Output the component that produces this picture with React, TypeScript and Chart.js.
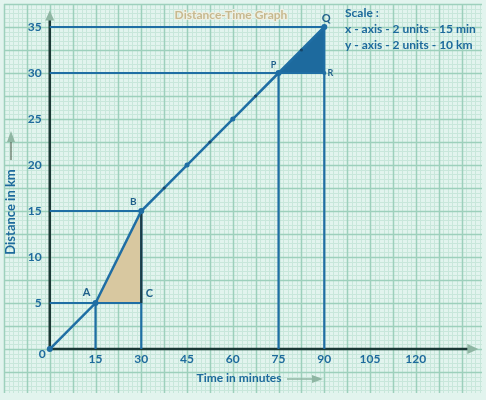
import React, { useEffect, useRef } from 'react';
import { Chart, registerables } from 'chart.js';

Chart.register(...registerables);

// ---- data ----
const timeMin = [0, 15, 30, 45, 60, 75, 90];
const distanceKm = [0, 5, 15, 20, 25, 30, 35];
const pointRadii = [3, 3, 3, 2.5, 2.5, 3, 3];
const tickTime = [37.5, 52.5, 67.5, 82.5];
const tickDist = [17.5, 22.5, 27.5, 32.5];

const xTickLabels = [15, 30, 45, 60, 75, 90, 105, 120];
const yTickLabels = [5, 10, 15, 20, 25, 30, 35];

const pointNames = ['A', 'B', 'C', 'P', 'Q', 'R'];
const pointX = [15, 30, 30, 75, 90, 90];
const pointY = [5, 15, 5, 30, 35, 30];

// guide segments: from (x1,y1) to (x2,y2)
const guideX1 = [0, 0, 0, 0, 15, 30, 75, 90];
const guideY1 = [35, 30, 15, 5, 0, 0, 0, 0];
const guideX2 = [90, 90, 30, 30, 15, 30, 75, 90];
const guideY2 = [35, 30, 15, 5, 5, 15, 30, 35];

// shaded triangles: hypotenuse from (x1,y1) to (x2,y2), base at y1
const triX1 = [15, 75];
const triY1 = [5, 30];
const triX2 = [30, 90];
const triY2 = [15, 35];

const chartTitle = 'Distance-Time Graph';
const scaleLines = ['Scale :', 'x - axis - 2 units - 15 min', 'y - axis - 2 units - 10 km'];
const xTitle = 'Time in minutes';
const yTitle = 'Distance in km';

// ---- styles ----
const BLUE = '#1f6ea4';
const TEXT_BLUE = '#1d6a9c';
const AXIS = '#1b3835';
const ARROW = '#8fb6a3';
const FONT = 'Lato, "Open Sans", sans-serif';
const labelDx = [-9, -8, 8, -5, 2, 6];
const labelDy = [-11, -9, -10, -8, -9, 0];
const labelSize = [11, 10, 11, 9, 11, 9];

const paperPlugin = {
  id: 'paper',
  beforeDraw(chart: any) {
    const { ctx, chartArea: a, scales } = chart;
    const x = scales.x;
    const y = scales.y;
    ctx.save();
    ctx.fillStyle = '#e2f4ee';
    ctx.fillRect(0, 0, chart.width, chart.height);
    for (const major of [false, true]) {
      ctx.strokeStyle = major ? '#9dd0bc' : '#c8e7db';
      ctx.lineWidth = major ? 1.5 : 1;
      ctx.beginPath();
      for (let i = 0; ; i++) {
        const v = -15 + i * 1.5;
        if (v > x.max) break;
        if ((i % 5 === 0) !== major) continue;
        const px = Math.round(x.getPixelForValue(v)) + 0.5;
        ctx.moveTo(px, a.top);
        ctx.lineTo(px, a.bottom);
      }
      for (let i = 0; ; i++) {
        const v = 37.5 - i * 0.5;
        if (v < y.min) break;
        if ((i % 5 === 0) !== major) continue;
        const py = Math.round(y.getPixelForValue(v)) + 0.5;
        ctx.moveTo(a.left, py);
        ctx.lineTo(a.right, py);
      }
      ctx.stroke();
    }
    ctx.restore();
  },
  beforeDatasetsDraw(chart: any) {
    const { ctx, scales } = chart;
    const x = scales.x;
    const y = scales.y;
    const ox = x.getPixelForValue(0);
    const oy = y.getPixelForValue(0);
    const xEnd = x.getPixelForValue(140.5);
    const yEnd = y.getPixelForValue(36.8);
    ctx.save();
    ctx.strokeStyle = AXIS;
    ctx.lineWidth = 2.5;
    ctx.beginPath();
    ctx.moveTo(ox, oy);
    ctx.lineTo(xEnd - 10, oy);
    ctx.moveTo(ox, oy);
    ctx.lineTo(ox, yEnd + 8);
    ctx.stroke();
    ctx.fillStyle = ARROW;
    ctx.beginPath();
    ctx.moveTo(xEnd, oy);
    ctx.lineTo(xEnd - 11, oy - 5);
    ctx.lineTo(xEnd - 11, oy + 5);
    ctx.closePath();
    ctx.fill();
    ctx.beginPath();
    ctx.moveTo(ox, yEnd);
    ctx.lineTo(ox - 4.5, yEnd + 10);
    ctx.lineTo(ox + 4.5, yEnd + 10);
    ctx.closePath();
    ctx.fill();
    ctx.restore();
  },
  afterDatasetsDraw(chart: any) {
    const { ctx, scales } = chart;
    const x = scales.x;
    const y = scales.y;
    const ox = x.getPixelForValue(0);
    const oy = y.getPixelForValue(0);
    ctx.save();
    ctx.fillStyle = TEXT_BLUE;
    ctx.font = `bold 12px ${FONT}`;
    ctx.textAlign = 'right';
    ctx.textBaseline = 'middle';
    yTickLabels.forEach((v) => ctx.fillText(String(v), ox - 8, y.getPixelForValue(v)));
    ctx.fillText('0', ox - 4, oy + 5);
    ctx.textAlign = 'center';
    xTickLabels.forEach((v) => ctx.fillText(String(v), x.getPixelForValue(v), oy + 10));

    // point names
    ctx.fillStyle = '#1f5f8a';
    pointNames.forEach((n, i) => {
      ctx.font = `bold ${labelSize[i]}px ${FONT}`;
      ctx.fillText(n, x.getPixelForValue(pointX[i]) + labelDx[i], y.getPixelForValue(pointY[i]) + labelDy[i]);
    });

    // title
    ctx.font = `bold 12px ${FONT}`;
    ctx.lineWidth = 2;
    ctx.strokeStyle = '#eef0e4';
    ctx.strokeText(chartTitle, 231, 15);
    ctx.fillStyle = '#c7b98f';
    ctx.fillText(chartTitle, 231, 15);

    // scale note
    ctx.fillStyle = TEXT_BLUE;
    ctx.textAlign = 'left';
    ctx.font = `bold 12px ${FONT}`;
    scaleLines.forEach((s, i) => ctx.fillText(s, 345, 13 + i * 16));

    // x title + arrow
    ctx.textAlign = 'center';
    ctx.font = `bold 12px ${FONT}`;
    ctx.fillText(xTitle, 239, 378);
    ctx.strokeStyle = ARROW;
    ctx.lineWidth = 1.5;
    ctx.beginPath();
    ctx.moveTo(287, 379);
    ctx.lineTo(313, 379);
    ctx.stroke();
    ctx.fillStyle = ARROW;
    ctx.beginPath();
    ctx.moveTo(323, 379);
    ctx.lineTo(312, 375);
    ctx.lineTo(312, 383);
    ctx.closePath();
    ctx.fill();

    // y title + arrow
    ctx.save();
    ctx.translate(11, 212);
    ctx.rotate(-Math.PI / 2);
    ctx.fillStyle = TEXT_BLUE;
    ctx.font = `bold 13px ${FONT}`;
    ctx.fillText(yTitle, 0, 0);
    ctx.restore();
    ctx.strokeStyle = '#5a6a5a';
    ctx.lineWidth = 1.2;
    ctx.beginPath();
    ctx.moveTo(11, 160);
    ctx.lineTo(11, 142);
    ctx.stroke();
    ctx.fillStyle = ARROW;
    ctx.beginPath();
    ctx.moveTo(11, 131);
    ctx.lineTo(7, 142);
    ctx.lineTo(15, 142);
    ctx.closePath();
    ctx.fill();
    ctx.restore();
  },
};

export default function App() {
  const ref = useRef<HTMLCanvasElement | null>(null);
  useEffect(() => {
    if (!ref.current) return;
    const datasets: any[] = [];
    datasets.push({
      data: timeMin.map((t, i) => ({ x: t, y: distanceKm[i] })),
      borderColor: BLUE,
      borderWidth: 2.5,
      pointRadius: pointRadii,
      pointBackgroundColor: BLUE,
      pointBorderWidth: 0,
      fill: false,
      order: 1,
    });
    datasets.push({
      data: tickTime.map((t, i) => ({ x: t, y: tickDist[i] })),
      showLine: false,
      pointRadius: 1.6,
      pointBackgroundColor: '#17476a',
      pointBorderWidth: 0,
      order: 0,
    });
    guideX1.forEach((_, i) => {
      datasets.push({
        data: [
          { x: guideX1[i], y: guideY1[i] },
          { x: guideX2[i], y: guideY2[i] },
        ],
        borderColor: BLUE,
        borderWidth: 2.2,
        pointRadius: 0,
        fill: false,
        order: 2,
      });
    });
    triX1.forEach((_, i) => {
      datasets.push({
        data: [
          { x: triX1[i], y: triY1[i] },
          { x: triX2[i], y: triY2[i] },
        ],
        borderWidth: 0,
        borderColor: 'rgba(0,0,0,0)',
        backgroundColor: i === 0 ? '#d8c8a0' : '#1d6a9e',
        pointRadius: 0,
        fill: { value: triY1[i] },
        order: 3,
      });
    });
    datasets.push({
      data: [
        { x: pointX[2], y: pointY[2] },
        { x: pointX[1], y: pointY[1] },
      ],
      borderColor: '#1b3a45',
      borderWidth: 2.2,
      pointRadius: 0,
      fill: false,
      order: 1.5,
    });
    datasets.push({
      data: [{ x: pointX[5], y: pointY[5] }],
      showLine: false,
      pointRadius: 2,
      pointBackgroundColor: BLUE,
      pointBorderWidth: 0,
      order: 0,
    });

    const chart = new Chart(ref.current, {
      type: 'line',
      data: { datasets },
      options: {
        animation: false,
        responsive: false,
        maintainAspectRatio: false,
        devicePixelRatio: 1,
        layout: { padding: { left: 4, top: 4, right: 3, bottom: 7 } },
        plugins: { legend: { display: false }, tooltip: { enabled: false }, title: { display: false } },
        scales: {
          x: { type: 'linear', min: -15, max: 141.7, display: false },
          y: { type: 'linear', min: -4.78, max: 37.5, display: false },
        },
      },
      plugins: [paperPlugin],
    } as any);
    return () => chart.destroy();
  }, []);
  return (
    <div style={{ position: 'absolute', left: 0, top: 0, width: 486, height: 400 }}>
      <canvas ref={ref} width={486} height={400} />
    </div>
  );
}
